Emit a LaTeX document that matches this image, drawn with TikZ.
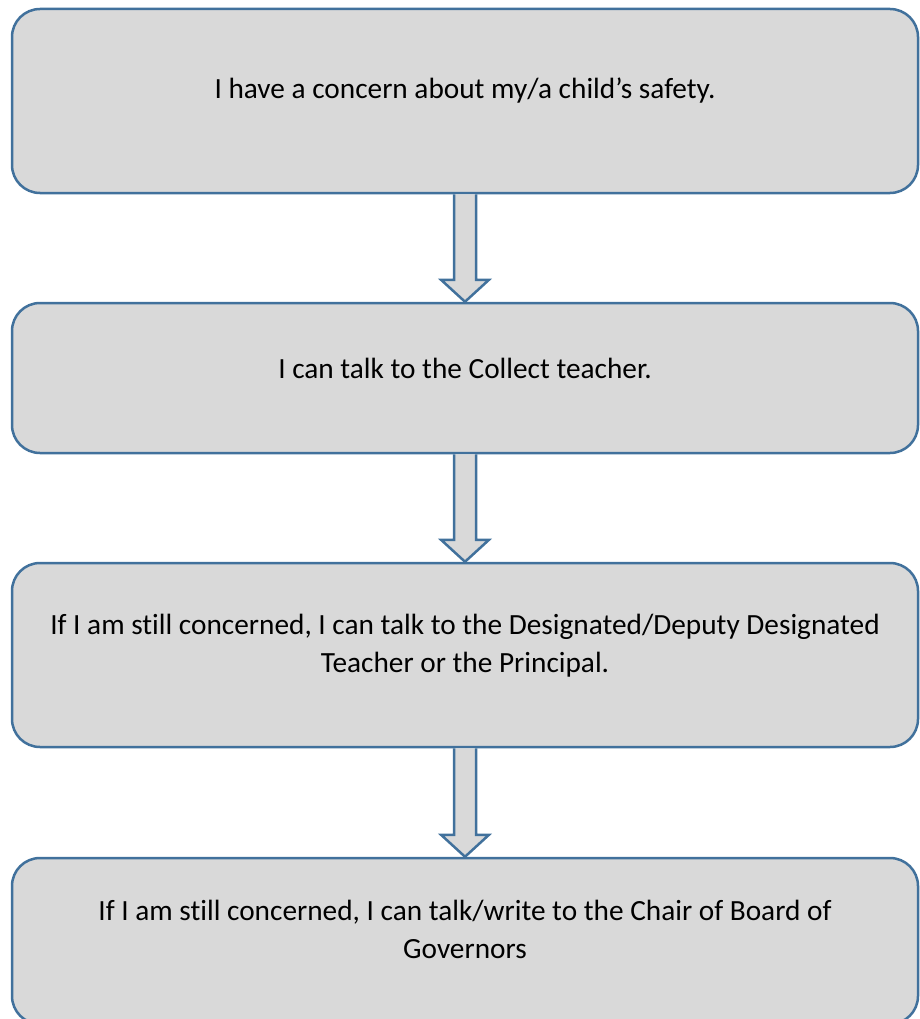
\documentclass[tikz,border=0pt]{standalone}
\usepackage{fontspec}
\setmainfont[Ligatures=NoCommon]{Carlito}
\usetikzlibrary{calc}
\definecolor{boxline}{HTML}{41719C}
\definecolor{boxfill}{HTML}{D9D9D9}
\tikzset{
  stepbox/.style={rectangle, rounded corners=28pt, draw=boxline, fill=boxfill, line width=2.5pt, minimum width=906pt, inner sep=0pt},
  steptext/.style={text=black, align=center, font=\fontsize{29.3}{38}\selectfont},
  downarrow/.style={draw=boxline, fill=boxfill, line width=2.5pt, line join=miter}
}
\begin{document}
\begin{tikzpicture}[x=1pt, y=1pt]
\useasboundingbox (0,0) rectangle (919,-1019);
\node[stepbox, minimum height=184pt] (b1) at (465,-101) {};
\node[stepbox, minimum height=150pt] (b2) at (465,-378) {};
\node[stepbox, minimum height=184pt] (b3) at (465,-655) {};
\node[stepbox, minimum height=166pt] (b4) at (465,-941) {};

\node[steptext] (t1) at (465,-91) {I have a concern about my/a child’s safety.};
\node[steptext] (t2) at (465,-368) {I can talk to the Collect teacher.};
\node[steptext] (t3) at (465,-646) {If I am still concerned, I can talk to the Designated/Deputy Designated\\Teacher or the Principal.};
\node[steptext] (t4) at (465,-929) {If I am still concerned, I can talk/write to the Chair of Board of\\Governors};

\foreach \a/\b in {b1/b2, b2/b3, b3/b4}
  \draw[downarrow] ($(\a.south)+(-11,0)$) -- ($(\b.north)+(-11,22)$) -- ($(\b.north)+(-24,22)$) -- (\b.north)
    -- ($(\b.north)+(24,22)$) -- ($(\b.north)+(11,22)$) -- ($(\a.south)+(11,0)$);
\end{tikzpicture}
\end{document}
